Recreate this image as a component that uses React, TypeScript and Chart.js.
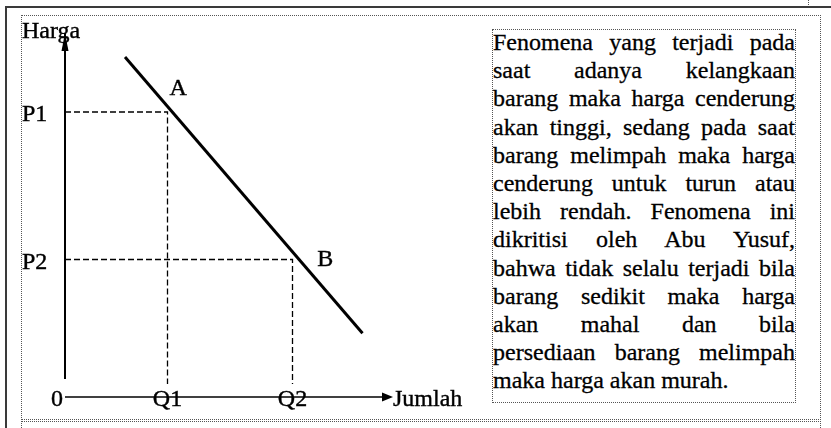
import React, { useEffect, useRef } from 'react';
import { Chart, registerables } from 'chart.js';

Chart.register(...registerables);

// ---- Data (units; origin of the diagram = 0) ----
const demandQuantity = [2.4, 11.9];
const demandPrice = [13.6, 2.55];
const pointNames = ['A', 'B'];
const equilibriumQuantity = [4.1, 9.1];
const equilibriumPrice = [11.4, 5.5];
const priceTickLabels = ['P1', 'P2'];
const quantityTickLabels = ['Q1', 'Q2'];
const originLabel = '0';
const pointLabelQuantity = [4.53, 10.41];
const pointLabelPrice = [12.41, 5.55];
const xAxisTitle = 'Jumlah';
const yAxisTitle = 'Harga';
const yAxisExtent = [0.72, 14.56];
const xAxisExtent = [0, 13.12];
const guideFloor = 0.52;
const xScaleRange = [-1.72, 16.68];
const yScaleRange = [-0.84, 15.24];

const paragraphLines = [
  'Fenomena yang terjadi pada',
  'saat adanya kelangkaan',
  'barang maka harga cenderung',
  'akan tinggi, sedang pada saat',
  'barang melimpah maka harga',
  'cenderung untuk turun atau',
  'lebih rendah. Fenomena ini',
  'dikritisi oleh Abu Yusuf,',
  'bahwa tidak selalu terjadi bila',
  'barang sedikit maka harga',
  'akan mahal dan bila',
  'persediaan barang melimpah',
  'maka harga akan murah.',
];

const SERIF = '"Liberation Serif", "Times New Roman", serif';

const overlayPlugin = {
  id: 'diagramOverlay',
  afterDatasetsDraw(chart: any) {
    const { ctx, chartArea, scales } = chart;
    const x = scales.x;
    const y = scales.y;
    ctx.save();
    ctx.fillStyle = '#000';
    ctx.strokeStyle = '#000';

    // arrowhead on price axis
    const ax = x.getPixelForValue(0);
    const at = y.getPixelForValue(yAxisExtent[1]);
    ctx.beginPath();
    ctx.moveTo(ax, at);
    ctx.lineTo(ax - 3.5, at + 18);
    ctx.lineTo(ax + 3.5, at + 18);
    ctx.closePath();
    ctx.fill();

    // arrowhead on quantity axis
    const xr = x.getPixelForValue(xAxisExtent[1]);
    const xy = y.getPixelForValue(0);
    ctx.beginPath();
    ctx.moveTo(xr, xy);
    ctx.lineTo(xr - 11, xy - 4.5);
    ctx.lineTo(xr - 11, xy + 4.5);
    ctx.closePath();
    ctx.fill();

    ctx.font = `24px ${SERIF}`;
    ctx.textBaseline = 'alphabetic';
    ctx.lineWidth = 0.4;
    const capHalf = 7.9;
    const put = (t: string, px: number, py: number) => {
      ctx.fillText(t, px, py);
      ctx.strokeText(t, px, py);
    };

    // axis titles
    ctx.textAlign = 'left';
    put(yAxisTitle, chartArea.left, at + 5);
    put(xAxisTitle, xr, xy + 9);

    // price ticks
    priceTickLabels.forEach((label, i) => {
      put(label, chartArea.left, y.getPixelForValue(equilibriumPrice[i]) + 9);
    });

    // origin and quantity ticks
    ctx.textAlign = 'right';
    put(originLabel, x.getPixelForValue(0) - 2, xy + 9);
    ctx.textAlign = 'center';
    quantityTickLabels.forEach((label, i) => {
      put(label, x.getPixelForValue(equilibriumQuantity[i]), xy + 9);
    });

    // point names
    pointNames.forEach((name, i) => {
      put(
        name,
        x.getPixelForValue(pointLabelQuantity[i]),
        y.getPixelForValue(pointLabelPrice[i]) + capHalf
      );
    });

    ctx.restore();
  },
};

function DemandChart() {
  const ref = useRef<HTMLCanvasElement | null>(null);

  useEffect(() => {
    if (!ref.current) return;
    const lineDs = (data: { x: number; y: number }[], extra: any) => ({
      data,
      showLine: true,
      fill: false,
      tension: 0,
      pointRadius: 0,
      pointHoverRadius: 0,
      borderColor: '#000',
      borderWidth: 1,
      ...extra,
    });

    const guides = equilibriumQuantity.map((q, i) =>
      lineDs(
        [
          { x: 0, y: equilibriumPrice[i] },
          { x: q, y: equilibriumPrice[i] },
          { x: q, y: guideFloor },
        ],
        { borderColor: '#000', borderWidth: 1.3, borderDash: [6, 3] }
      )
    );

    const chart = new Chart(ref.current, {
      type: 'scatter',
      data: {
        datasets: [
          lineDs(
            [
              { x: 0, y: yAxisExtent[0] },
              { x: 0, y: yAxisExtent[1] },
            ],
            { borderColor: '#000', borderWidth: 2 }
          ),
          lineDs(
            [
              { x: xAxisExtent[0], y: 0 },
              { x: xAxisExtent[1] - 0.3, y: 0 },
            ],
            { borderColor: '#000', borderWidth: 1.6 }
          ),
          ...guides,
          lineDs(
            demandQuantity.map((q, i) => ({ x: q, y: demandPrice[i] })),
            { borderColor: '#000', borderWidth: 3 }
          ),
        ],
      },
      options: {
        animation: false,
        responsive: false,
        events: [],
        layout: { padding: 0 },
        plugins: {
          legend: { display: false },
          tooltip: { enabled: false },
        },
        scales: {
          x: { type: 'linear', min: xScaleRange[0], max: xScaleRange[1], display: false },
          y: { type: 'linear', min: yScaleRange[0], max: yScaleRange[1], display: false },
        },
      },
      plugins: [overlayPlugin],
    } as any);

    return () => chart.destroy();
  }, []);

  return (
    <canvas
      ref={ref}
      width={460}
      height={402}
      style={{ position: 'absolute', left: 22, top: 16, width: 460, height: 402 }}
    />
  );
}

export default function App() {
  const abs = (s: React.CSSProperties): React.CSSProperties => ({ position: 'absolute', ...s });
  const dotted = '1px dotted #555';
  return (
    <div
      style={{
        position: 'absolute',
        left: 0,
        top: 0,
        width: 831,
        height: 428,
        overflow: 'hidden',
        background: '#fff',
      }}
    >
      {/* outer solid frame */}
      <div style={abs({ left: 5, top: 6, width: 826, height: 0, borderTop: '2px solid #3a3a3a' })} />
      <div style={abs({ left: 5, top: 6, width: 0, height: 422, borderLeft: '2px solid #3a3a3a' })} />
      <div style={abs({ left: 808, top: 0, width: 0, height: 5, borderLeft: dotted })} />

      {/* dotted cell */}
      <div
        style={abs({
          left: 21,
          top: 15,
          width: 800,
          height: 405,
          border: dotted,
          boxSizing: 'border-box',
        })}
      />
      <div style={abs({ left: 21, top: 421, width: 800, height: 0, borderTop: dotted })} />
      <div style={abs({ left: 21, top: 419, width: 0, height: 9, borderLeft: dotted })} />
      <div style={abs({ left: 820, top: 419, width: 0, height: 9, borderLeft: dotted })} />

      <DemandChart />

      {/* text box */}
      <div
        style={abs({
          left: 492,
          top: 29,
          width: 304,
          height: 374,
          border: dotted,
          boxSizing: 'border-box',
          fontFamily: SERIF,
          fontSize: 24,
          lineHeight: '28.2px',
          color: '#000',
          WebkitTextStroke: '0.3px #000',
          overflow: 'hidden',
        })}
      >
        <div style={{ marginTop: -2 }}>
          {paragraphLines.map((line, i) => (
            <div
              key={i}
              style={{
                textAlign: 'justify',
                textAlignLast: i < paragraphLines.length - 1 ? 'justify' : 'left',
              }}
            >
              {line}
            </div>
          ))}
        </div>
      </div>
    </div>
  );
}
